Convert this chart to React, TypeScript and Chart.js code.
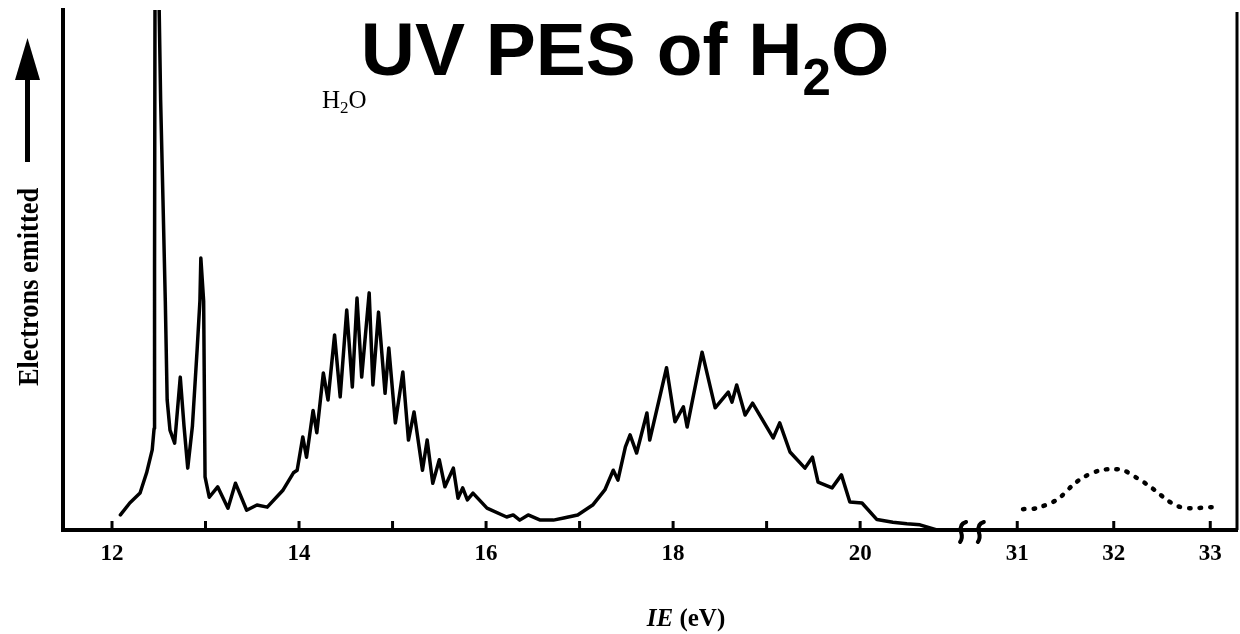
import React, { useEffect, useRef } from "react";
import { Chart, registerables } from "chart.js";

Chart.register(...registerables);

// ---- Data (ionization energy in eV, relative electron count 0..100) ----
const mainIE = [
  12.09, 12.19, 12.3, 12.37, 12.43, 12.45, 12.455, 12.46, 12.5, 12.52, 12.545, 12.57, 12.59, 12.62,
  12.67, 12.73, 12.77, 12.81, 12.86, 12.91, 12.94, 12.95, 12.98, 12.995, 13.04, 13.13, 13.24, 13.32,
  13.44, 13.55, 13.66, 13.83, 13.94, 13.98, 14.04, 14.08, 14.15, 14.19, 14.26, 14.31, 14.38, 14.44,
  14.51, 14.57, 14.62, 14.67, 14.75, 14.79, 14.85, 14.92, 14.96, 15.03, 15.11, 15.17, 15.23, 15.32,
  15.37, 15.43, 15.5, 15.56, 15.65, 15.7, 15.75, 15.8, 15.86, 16.01, 16.22, 16.29, 16.36, 16.45,
  16.58, 16.72, 16.83, 16.98, 17.14, 17.27, 17.36, 17.41, 17.49, 17.54, 17.61, 17.72, 17.75, 17.93,
  18.02, 18.11, 18.15, 18.31, 18.45, 18.59, 18.63, 18.68, 18.77, 18.85, 19.07, 19.14, 19.25, 19.41,
  19.49, 19.55, 19.7, 19.8, 19.89, 20.02, 20.18, 20.35, 20.5, 20.64, 20.82, 21.0,
];
const mainSignal = [
  2.9, 5.2, 7.1, 11, 15.4, 19.5, 50, 105, 105, 82.7, 63.5, 44, 25, 19.2,
  16.7, 29.4, 20, 11.9, 20, 34.6, 44, 52.3, 44, 10.2, 6.3, 8.3, 4.2, 9,
  3.8, 4.8, 4.4, 7.7, 11, 11.5, 17.9, 14, 23, 18.7, 30.2, 25, 37.5, 25.6,
  42.3, 27.5, 44.6, 29.4, 45.6, 27.9, 41.9, 26.3, 35, 20.6, 30.4, 17.3, 22.7, 11.5,
  17.3, 9, 13.5, 8.3, 11.9, 6.1, 8.1, 5.8, 7.1, 4.2, 2.5, 2.9, 1.9, 2.9,
  1.9, 1.9, 2.3, 2.9, 4.8, 7.7, 11.5, 9.6, 16, 18.3, 14.8, 22.5, 17.3, 31.2,
  20.8, 23.7, 19.8, 34.2, 23.5, 26.5, 24.6, 27.9, 22.1, 24.4, 17.7, 20.6, 15, 11.9,
  14, 9.2, 8.1, 10.6, 5.4, 5.2, 2.0, 1.5, 1.2, 1.0, 0, 0,
];
const innerIE = [31.06, 31.2, 31.41, 31.58, 31.69, 31.86, 32.0, 32.1, 32.24, 32.35, 32.45, 32.55, 32.66, 32.79, 33.02];
const innerSignal = [4.0, 4.2, 5.8, 8.7, 10.2, 11.5, 11.7, 11.5, 10, 8.7, 7.3, 5.8, 4.6, 4.2, 4.4];

const tickIE = [12, 13, 14, 15, 16, 17, 18, 19, 20, 31, 32, 33];
const tickLabels = ["12", "", "14", "", "16", "", "18", "", "20", "31", "32", "33"];

const titleParts = ["UV PES of H", "2", "O"];
const moleculeParts = ["H", "2", "O"];
const yTitle = "Electrons emitted";
const xTitleParts = ["IE", " (eV)"];

// broken axis: 31..33 eV is drawn right after the break
const BREAK_FROM = 31;
const BREAK_TO = 21.68;
const RIGHT_SCALE = 1.032;
const toAxis = (e: number) => (e >= 25 ? BREAK_TO + (e - BREAK_FROM) * RIGHT_SCALE : e);

const decorPlugin = {
  id: "decor",
  afterDraw(chart: any) {
    const { ctx, chartArea, scales } = chart;
    const xs = scales.x;
    const { top, bottom, right } = chartArea;
    ctx.save();
    ctx.fillStyle = "#000";
    ctx.strokeStyle = "#000";

    // inward tick marks
    ctx.lineWidth = 3;
    tickIE.forEach((v) => {
      const px = xs.getPixelForValue(toAxis(v));
      ctx.beginPath();
      ctx.moveTo(px, bottom);
      ctx.lineTo(px, bottom - 9);
      ctx.stroke();
    });

    // right frame line
    ctx.lineWidth = 3;
    ctx.beginPath();
    ctx.moveTo(right, top + 2);
    ctx.lineTo(right, bottom);
    ctx.stroke();

    // axis break marks
    ctx.lineWidth = 4;
    ctx.lineCap = "round";
    [21.09, 21.28].forEach((v) => {
      const px = xs.getPixelForValue(v);
      ctx.beginPath();
      ctx.moveTo(px + 4, bottom - 8);
      ctx.quadraticCurveTo(px - 3, bottom - 6, px - 1, bottom + 2);
      ctx.quadraticCurveTo(px + 1, bottom + 8, px - 2, bottom + 12);
      ctx.stroke();
    });

    // main title with subscript
    const mainFont = 'bold 75px "Liberation Sans", Arial, sans-serif';
    const subFont = 'bold 51px "Liberation Sans", Arial, sans-serif';
    ctx.textBaseline = "alphabetic";
    ctx.textAlign = "left";
    ctx.font = mainFont;
    const w1 = ctx.measureText(titleParts[0]).width;
    const w3 = ctx.measureText(titleParts[2]).width;
    ctx.font = subFont;
    const w2 = ctx.measureText(titleParts[1]).width;
    let tx = 625 - (w1 + w2 + w3) / 2;
    ctx.font = mainFont;
    ctx.fillText(titleParts[0], tx, 75);
    tx += w1;
    ctx.font = subFont;
    ctx.fillText(titleParts[1], tx, 95);
    tx += w2;
    ctx.font = mainFont;
    ctx.fillText(titleParts[2], tx, 75);

    // molecule label inside the plot
    const mFont = '25px "Liberation Serif", "Times New Roman", serif';
    const mSub = '17px "Liberation Serif", "Times New Roman", serif';
    let mx = 322;
    ctx.font = mFont;
    ctx.fillText(moleculeParts[0], mx, 108);
    mx += ctx.measureText(moleculeParts[0]).width;
    ctx.font = mSub;
    ctx.fillText(moleculeParts[1], mx, 113);
    mx += ctx.measureText(moleculeParts[1]).width;
    ctx.font = mFont;
    ctx.fillText(moleculeParts[2], mx, 108);

    // y axis title with arrow
    ctx.save();
    ctx.translate(38, 287);
    ctx.rotate(-Math.PI / 2);
    ctx.scale(0.88, 1);
    ctx.font = 'bold 30px "Liberation Serif", "Times New Roman", serif';
    ctx.textAlign = "center";
    ctx.fillText(yTitle, 0, 0);
    ctx.restore();
    ctx.fillRect(25, 76, 5, 86);
    ctx.beginPath();
    ctx.moveTo(27.5, 38);
    ctx.lineTo(15, 80);
    ctx.lineTo(40, 80);
    ctx.closePath();
    ctx.fill();

    // x axis title
    const iFont = 'italic bold 25px "Liberation Serif", "Times New Roman", serif';
    const rFont = 'bold 25px "Liberation Serif", "Times New Roman", serif';
    ctx.font = iFont;
    const a = ctx.measureText(xTitleParts[0]).width;
    ctx.font = rFont;
    const b = ctx.measureText(xTitleParts[1]).width;
    let xx = 686 - (a + b) / 2;
    ctx.font = iFont;
    ctx.fillText(xTitleParts[0], xx, 626);
    xx += a;
    ctx.font = rFont;
    ctx.fillText(xTitleParts[1], xx, 626);

    ctx.restore();
  },
};

export default function App() {
  const ref = useRef<HTMLCanvasElement | null>(null);

  useEffect(() => {
    document.body.style.margin = "0";
    const canvas = ref.current;
    if (!canvas) return;
    const chart = new Chart(canvas, {
      type: "line",
      data: {
        datasets: [
          {
            data: mainIE.map((e, i) => ({ x: toAxis(e), y: mainSignal[i] })),
            borderColor: "#000",
            borderWidth: 3.5,
            pointRadius: 0,
            tension: 0,
            borderJoinStyle: "round",
            borderCapStyle: "round",
          },
          {
            data: innerIE.map((e, i) => ({ x: toAxis(e), y: innerSignal[i] })),
            borderColor: "#000",
            borderWidth: 4.5,
            borderDash: [1.5, 9],
            borderCapStyle: "round",
            pointRadius: 0,
            tension: 0.3,
          },
        ],
      },
      options: {
        responsive: false,
        animation: false,
        events: [],
        layout: { padding: { top: 10, right: 3, left: 0, bottom: 0 } },
        plugins: { legend: { display: false }, tooltip: { enabled: false }, title: { display: false } },
        scales: {
          x: {
            type: "linear",
            min: 11.476,
            max: 24.03,
            afterBuildTicks: (s: any) => {
              s.ticks = tickIE.map((v) => ({ value: toAxis(v) }));
            },
            afterFit: (s: any) => {
              s.height = 104;
            },
            ticks: {
              autoSkip: false,
              maxRotation: 0,
              padding: 10,
              color: "#000",
              font: { family: '"Liberation Serif", "Times New Roman", serif', weight: "bold", size: 23 },
              callback: (_v: any, i: number) => tickLabels[i],
            },
            grid: { display: false, drawTicks: false },
            border: { display: true, color: "#000", width: 4 },
          },
          y: {
            min: 0,
            max: 100,
            afterFit: (s: any) => {
              s.width = 63;
            },
            ticks: { display: false },
            grid: { display: false, drawTicks: false },
            border: { display: true, color: "#000", width: 4 },
          },
        },
      },
      plugins: [decorPlugin],
    } as any);
    return () => chart.destroy();
  }, []);

  return (
    <div style={{ width: 1240, height: 634, background: "#fff" }}>
      <canvas ref={ref} width={1240} height={634} style={{ display: "block" }} />
    </div>
  );
}
